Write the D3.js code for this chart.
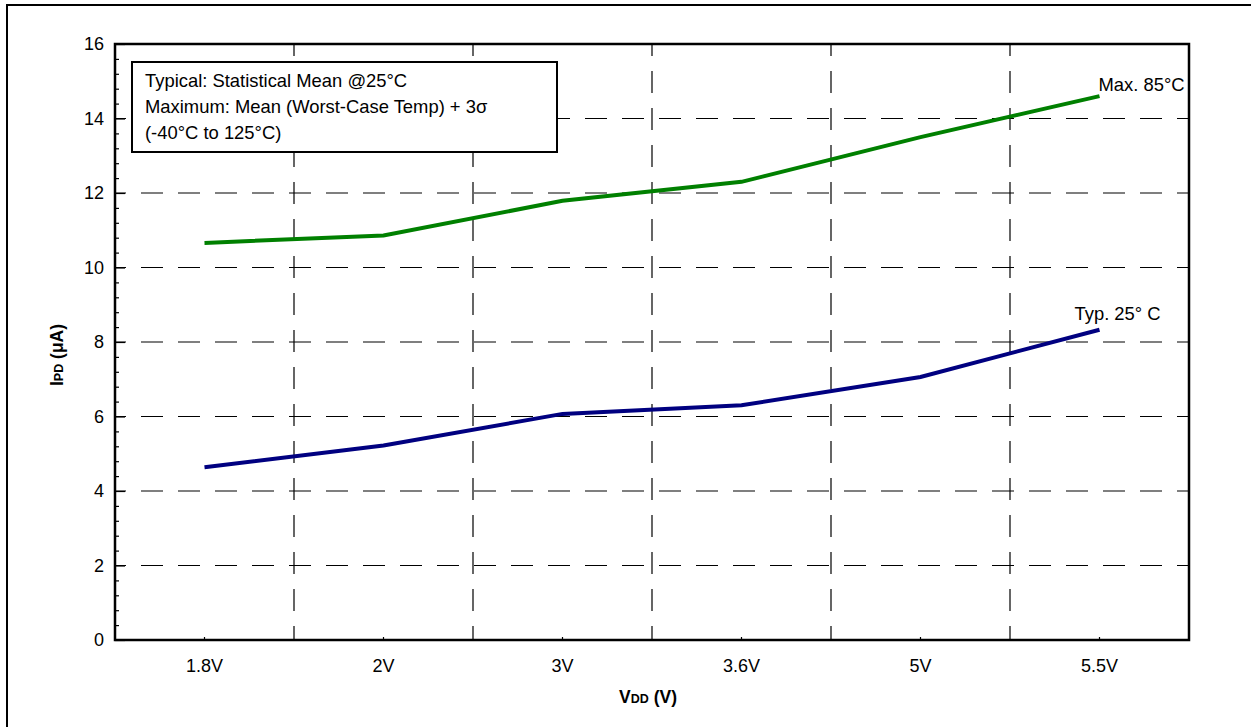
<!DOCTYPE html>
<html>
<head>
<meta charset="utf-8">
<script src="https://cdn.jsdelivr.net/npm/d3@7"></script>
<style>
  html, body {margin: 0; padding: 0; background: #fff;}
  svg {display: block; font-family: 'Liberation Sans', Arial, sans-serif;}
</style>
</head>
<body>
<svg id="chart" width="1251" height="727"></svg>
<script>
const categories = ['1.8V', '2V', '3V', '3.6V', '5V', '5.5V'];
const maxValues = [10.66, 10.86, 11.79, 12.3, 13.5, 14.6];
const typValues = [4.64, 5.22, 6.07, 6.3, 7.06, 8.33];
const yMajorTicks = [0, 2, 4, 6, 8, 10, 12, 14, 16];
const yGridTicks = [2, 4, 6, 8, 10, 12, 14];
const legendLines = [
  'Typical: Statistical Mean @25°C',
  'Maximum: Mean (Worst-Case Temp) + 3σ',
  '(-40°C to 125°C)',
];

/* chart: IPD vs VDD */
;(function () {
  const svg = d3.select('#chart');
  const left = 115, right = 1189, top = 44, bottom = 640;

  const x = d3.scaleBand()
    .domain(categories)
    .range([left, right])
    .padding(0);

  const y = d3.scaleLinear()
    .domain([0, 16])
    .range([bottom, top]);

  const cx = d => x(d) + x.bandwidth() / 2;

  // outer frame (runs off the right / bottom edge)
  svg.append('rect')
    .attr('x', 7).attr('y', 5)
    .attr('width', 1300).attr('height', 800)
    .attr('fill', 'none')
    .attr('stroke', '#000')
    .attr('stroke-width', 2);

  // horizontal dashed grid
  svg.append('g')
    .selectAll('line')
    .data(yGridTicks)
    .enter()
    .append('line')
    .attr('x1', left).attr('x2', right)
    .attr('y1', d => y(d)).attr('y2', d => y(d))
    .attr('stroke', '#000')
    .attr('stroke-width', 1.2)
    .attr('stroke-dasharray', '22,15')
    .attr('stroke-dashoffset', 11);

  // vertical dashed grid on band boundaries
  svg.append('g')
    .selectAll('line')
    .data(categories.slice(1))
    .enter()
    .append('line')
    .attr('x1', d => x(d)).attr('x2', d => x(d))
    .attr('y1', top).attr('y2', bottom)
    .attr('stroke', '#000')
    .attr('stroke-width', 1.2)
    .attr('stroke-dasharray', '22,15')
    .attr('stroke-dashoffset', 10);

  // y axis: major + minor ticks pointing inward
  const yAxis = svg.append('g')
    .attr('transform', `translate(${left},0)`)
    .call(d3.axisLeft(y)
      .tickValues(yMajorTicks)
      .tickSize(-10)
      .tickPadding(11));
  yAxis.select('.domain').remove();
  yAxis.selectAll('.tick line').attr('stroke', '#000').attr('stroke-width', 1.2);
  yAxis.selectAll('text')
    .attr('fill', '#000')
    .attr('font-size', 18)
    .attr('font-family', 'Liberation Sans, Arial, sans-serif');

  const minor = d3.range(0, 16.01, 0.4).filter(v => Math.abs(v / 2 - Math.round(v / 2)) > 0.01);
  const yMinor = svg.append('g')
    .attr('transform', `translate(${left},0)`)
    .call(d3.axisLeft(y).tickValues(minor).tickSize(-4).tickFormat(''));
  yMinor.select('.domain').remove();
  yMinor.selectAll('.tick line').attr('stroke', '#000').attr('stroke-width', 1.2);

  // x axis: short inward ticks at category centres
  const xAxis = svg.append('g')
    .attr('transform', `translate(0,${bottom})`)
    .call(d3.axisBottom(x).tickSize(-3).tickPadding(19));
  xAxis.select('.domain').remove();
  xAxis.selectAll('.tick line').attr('stroke', '#000').attr('stroke-width', 1.2);
  xAxis.selectAll('text')
    .attr('fill', '#000')
    .attr('font-size', 18)
    .attr('font-family', 'Liberation Sans, Arial, sans-serif');

  // plot frame
  svg.append('rect')
    .attr('x', left).attr('y', top)
    .attr('width', right - left).attr('height', bottom - top)
    .attr('fill', 'none')
    .attr('stroke', '#000')
    .attr('stroke-width', 2.5);

  // legend box
  const legend = svg.append('g');
  legend.append('rect')
    .attr('x', 132).attr('y', 62)
    .attr('width', 425).attr('height', 90)
    .attr('fill', '#fff')
    .attr('stroke', '#000')
    .attr('stroke-width', 2);
  legend.selectAll('text')
    .data(legendLines)
    .enter()
    .append('text')
    .attr('x', 145)
    .attr('y', (d, i) => 87 + i * 26)
    .attr('font-size', 18.4)
    .attr('fill', '#000')
    .text(d => d);

  // series
  const line = d3.line()
    .x((d, i) => cx(categories[i]))
    .y(d => y(d));

  const series = [
    {name: 'Max. 85°C', values: maxValues, color: '#008000', dx: -1, dy: -5},
    {name: 'Typ. 25° C', values: typValues, color: '#000080', dx: -25, dy: -10},
  ];

  series.forEach((s) => {
    svg.append('path')
      .datum(s.values)
      .attr('d', line)
      .attr('fill', 'none')
      .attr('stroke', s.color)
      .attr('stroke-width', 4);

    const last = s.values.length - 1;
    svg.append('text')
      .attr('x', cx(categories[last]) + s.dx)
      .attr('y', y(s.values[last]) + s.dy)
      .attr('font-size', 18.4)
      .attr('fill', '#000')
      .text(s.name);
  });

  // axis titles
  const xt = svg.append('text')
    .attr('x', (left + right) / 2 - 4)
    .attr('y', 703)
    .attr('text-anchor', 'middle')
    .attr('font-weight', 'bold')
    .attr('font-size', 17.5);
  xt.append('tspan').text('V');
  xt.append('tspan').attr('font-size', 12.5).text('DD');
  xt.append('tspan').text(' (V)');

  const yt = svg.append('text')
    .attr('transform', 'translate(63,355) rotate(-90)')
    .attr('text-anchor', 'middle')
    .attr('font-weight', 'bold')
    .attr('font-size', 17.5);
  yt.append('tspan').text('I');
  yt.append('tspan').attr('font-size', 12.5).text('PD');
  yt.append('tspan').text(' (μA)');
}());
</script>
</body>
</html>
